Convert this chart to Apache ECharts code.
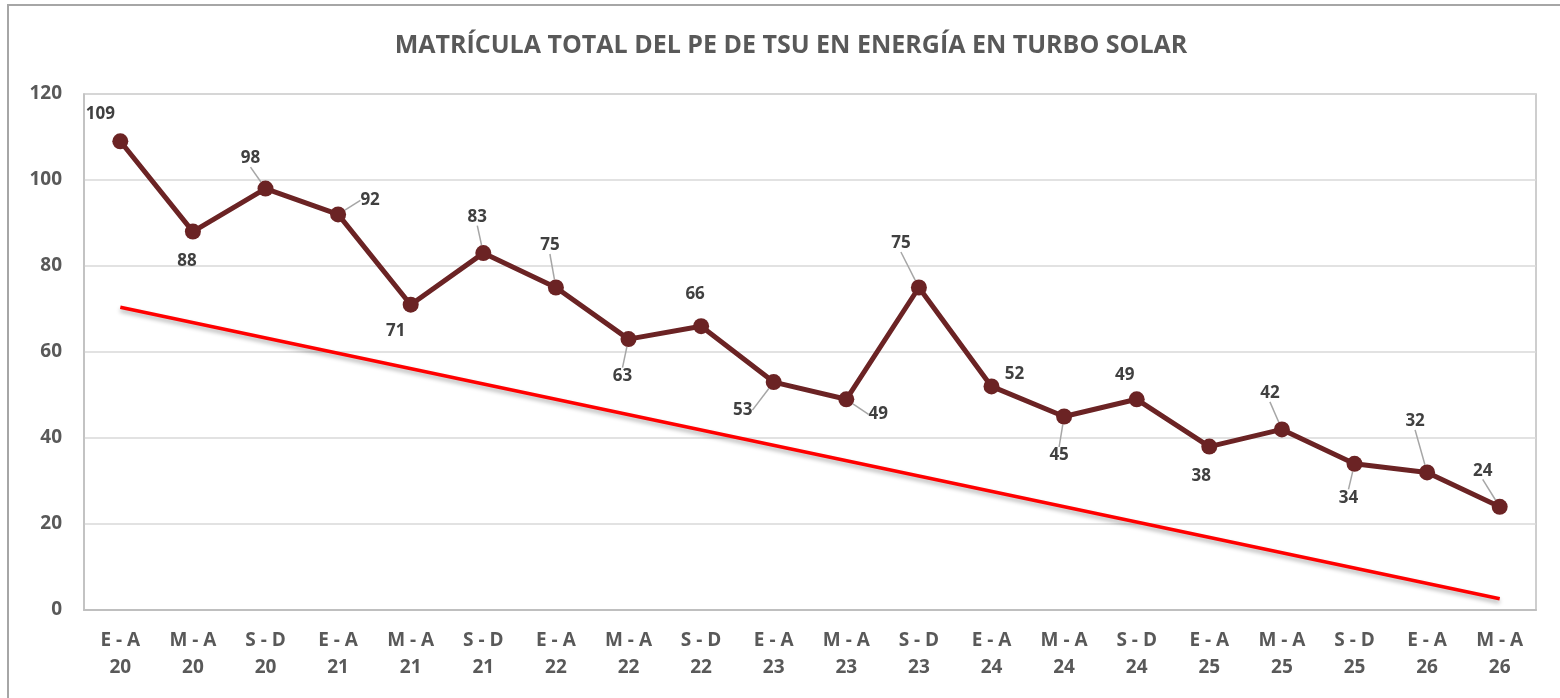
<!DOCTYPE html>
<html>
<head>
<meta charset="utf-8">
<title>Matrícula total</title>
<script src="https://cdn.jsdelivr.net/npm/echarts@6/dist/echarts.min.js"></script>
<style>
html, body { margin: 0; padding: 0; background: #fff; }
#chart { width: 1560px; height: 698px; }
</style>
</head>
<body>
<div id="chart"></div>
<script>
var periodos = ['E - A', 'M - A', 'S - D', 'E - A', 'M - A', 'S - D', 'E - A', 'M - A', 'S - D', 'E - A',
	'M - A', 'S - D', 'E - A', 'M - A', 'S - D', 'E - A', 'M - A', 'S - D', 'E - A', 'M - A'];
var anios = ['20', '20', '20', '21', '21', '21', '22', '22', '22', '23',
	'23', '23', '24', '24', '24', '25', '25', '25', '26', '26'];
var matricula = [109, 88, 98, 92, 71, 83, 75, 63, 66, 53, 49, 75, 52, 45, 49, 38, 42, 34, 32, 24];
// tendencia: extremos
var tendencia = [[0, 70.4], [18.9, 2.6]];
var yTicks = [0, 20, 40, 60, 80, 100, 120];

// desplazamiento de cada etiqueta respecto al punto (px) y si lleva linea guia
var labelDx = [-20, -6, -15, 32, -15, -6, -6, -6, -6, -31, 32, -18, 23, -5, -12, -8, -12, -6, -12, -17];
var labelDy = [-27, 30, -30, -14, 26, -36, -42, 37, -32, 28, 15, -44, -12, 39, -24, 30, -36, 34, -51, -36];
var guia = [false, false, true, true, false, true, true, true, false, true, true, true, false, true, false, false, true, true, true, true];

var categorias = [];
for (var i = 0; i < periodos.length; i++) {
	categorias.push(periodos[i] + '\n' + anios[i]);
}

var serieDatos = [];
for (var j = 0; j < matricula.length; j++) {
	serieDatos.push({
		value: matricula[j],
		labelLine: { show: guia[j] }
	});
}

var myChart = echarts.init(document.getElementById('chart'));
var option = {
	animation: false,
	backgroundColor: '#ffffff',
	title: {
		text: 'MATRÍCULA TOTAL DEL PE DE TSU EN ENERGÍA EN TURBO SOLAR',
		left: 786,
		top: 28,
		textAlign: 'center',
		textStyle: {
			fontFamily: 'Open Sans',
			fontSize: 25,
			fontWeight: 'bold',
			color: '#595959'
		}
	},
	graphic: [{
		type: 'rect',
		shape: { x: 8, y: 5, width: 1600, height: 720 },
		style: { fill: 'none', stroke: '#a6a6a6', lineWidth: 2 },
		silent: true
	}],
	grid: {
		left: 84,
		right: 24,
		top: 94,
		bottom: 88,
		show: true,
		borderColor: '#bfbfbf',
		borderWidth: 1.5
	},
	xAxis: {
		type: 'category',
		data: categorias,
		boundaryGap: true,
		axisLine: { lineStyle: { color: '#bfbfbf', width: 2 } },
		axisTick: { show: false },
		axisLabel: {
			interval: 0,
			margin: 17,
			lineHeight: 27,
			fontFamily: 'Open Sans',
			fontSize: 19,
			fontWeight: 'bold',
			color: '#595959'
		}
	},
	yAxis: {
		type: 'value',
		min: yTicks[0],
		max: yTicks[yTicks.length - 1],
		interval: 20,
		axisLine: { show: true, lineStyle: { color: '#bfbfbf', width: 1.5 } },
		axisTick: { show: false },
		splitLine: { lineStyle: { color: '#d9d9d9', width: 1.5 } },
		axisLabel: {
			margin: 22,
			fontFamily: 'Open Sans',
			fontSize: 19,
			fontWeight: 'bold',
			color: '#595959'
		}
	},
	series: [{
		name: 'Tendencia',
		type: 'line',
		data: tendencia,
		symbol: 'none',
		z: 1,
		lineStyle: {
			color: '#ff0000',
			width: 3.5,
			shadowColor: 'rgba(0,0,0,0.3)',
			shadowBlur: 4,
			shadowOffsetY: 3
		}
	}, {
		name: 'Matrícula',
		type: 'line',
		data: serieDatos,
		symbol: 'circle',
		symbolSize: 16,
		z: 3,
		itemStyle: { color: '#6b2324' },
		lineStyle: { color: '#6b2324', width: 5 },
		label: {
			show: true,
			position: 'inside',
			fontFamily: 'Open Sans',
			fontSize: 17,
			fontWeight: 'bold',
			color: '#404040'
		},
		labelLine: {
			show: false,
			lineStyle: { color: '#a6a6a6', width: 1.5 }
		},
		labelLayout: function (params) {
			return { dx: labelDx[params.dataIndex], dy: labelDy[params.dataIndex] };
		}
	}]
};
myChart.setOption(option);
</script>
</body>
</html>
